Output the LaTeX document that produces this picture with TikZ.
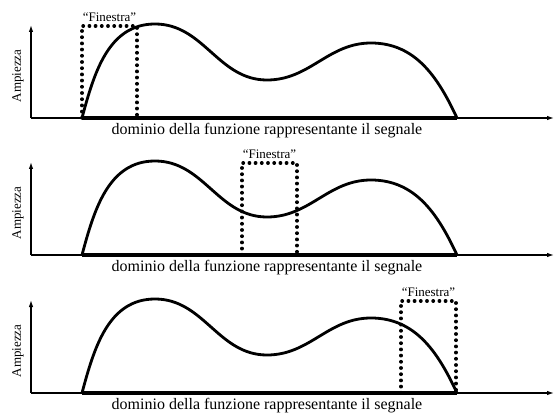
\documentclass[tikz,border=0pt]{standalone}
\usepackage{fontspec}
\setmainfont{Liberation Serif}
\usetikzlibrary{arrows.meta,positioning}

\begin{document}
\begin{tikzpicture}[
    x=1pt, y=1pt,
    % Define the style for the axes
    axisStyle/.style={
        line width=1.2pt,
        -{Latex[length=7pt,width=4.5pt]}
    },
    % Define the style for the thick domain bar
    domainBar/.style={
        line width=4.5pt
    },
    % Define the style for the signal curve
    signalStyle/.style={
        line width=2.8pt,
        line join=round
    },
    % Define the style for the dotted window
    windowStyle/.style={
        line width=3.4pt,
        line cap=round,
        dash pattern=on 0.4pt off 5.8pt
    },
    % Define the styles for the texts
    ampLabel/.style={
        font=\fontsize{13}{13}\selectfont,
        rotate=90
    },
    winLabel/.style={
        font=\fontsize{13}{13}\selectfont,
        inner sep=1pt
    },
    domLabel/.style={
        font=\fontsize{16}{16}\selectfont,
        inner sep=0pt
    }
]
    \useasboundingbox (0,0) rectangle (555,416);

    % --- DIMENSIONS ---
    % Domain of the signal
    \def\xS{82}
    \def\xE{457}
    % Window size
    \def\winW{55}
    \def\winH{92}

    % --- PANELS ---
    % One panel per window position: panel / axis height / window left edge
    \foreach \p/\ay/\wx in {1/298/82, 2/161/242, 3/23/401} {
        \begin{scope}[yshift=\ay]
            % Axes
            \coordinate (O\p) at (31,0);
            \coordinate (Y\p) at (31,93);
            \coordinate (X\p) at (554,0);
            \draw[axisStyle] (O\p) -- (Y\p);
            \draw[axisStyle] (O\p) -- (X\p);

            % Domain bar
            \coordinate (S\p) at (\xS,0);
            \coordinate (E\p) at (\xE,0);
            \draw[domainBar] (S\p) -- (E\p);

            % Signal: peak, dip, second peak
            \coordinate (P\p) at (155,94);
            \coordinate (M\p) at (267,38);
            \coordinate (Q\p) at (371,75);
            \draw[signalStyle] (S\p) to[out=75,in=180] (P\p)
                to[out=0,in=180] (M\p)
                to[out=0,in=180] (Q\p)
                to[out=0,in=115] (E\p);

            % Window
            \coordinate (WL\p) at (\wx,0);
            \coordinate (WTL\p) at (\wx,\winH);
            \coordinate (WTR\p) at ({\wx+\winW},\winH);
            \coordinate (WR\p) at ({\wx+\winW},0);
            \draw[windowStyle] (WL\p) -- (WTL\p) -- (WTR\p) -- (WR\p);

            % Labels
            \node[winLabel, anchor=south] (win\p) at ({\wx+\winW/2},{\winH+3}) {``Finestra''};
            \node[ampLabel] (amp\p) at (18,42) {Ampiezza};
            \node[domLabel] (dom\p) at (267,-13) {dominio della funzione rappresentante il segnale};
        \end{scope}
    }

\end{tikzpicture}
\end{document}
